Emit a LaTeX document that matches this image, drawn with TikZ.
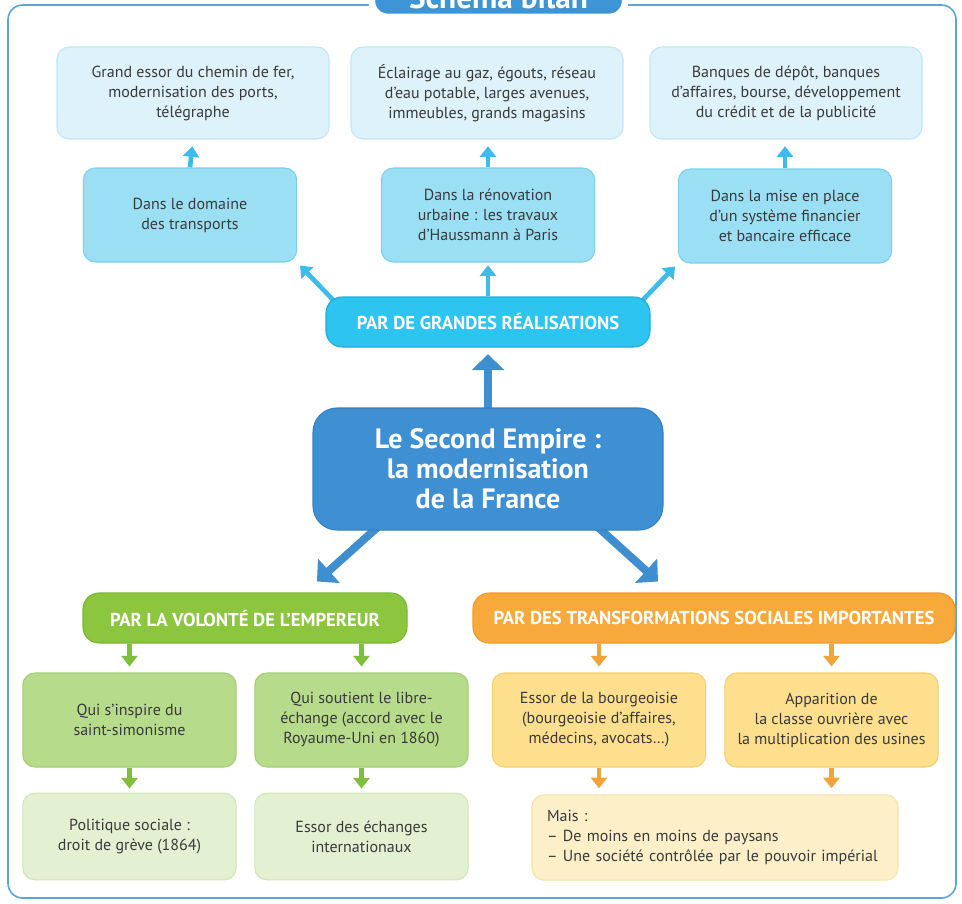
\documentclass[tikz,border=0pt]{standalone}
\usepackage{fontspec}
\setmainfont{PT Sans}
\usetikzlibrary{arrows.meta,backgrounds,calc}

\definecolor{textgray}{HTML}{3A3A3A}
\definecolor{frameblue}{HTML}{5AA5DC}
\definecolor{tabblue}{HTML}{3D95D5}
\definecolor{paleblue}{HTML}{DDF2FB}
\definecolor{paleblueline}{HTML}{BFE6F6}
\definecolor{midcyan}{HTML}{9BDFF5}
\definecolor{midcyanline}{HTML}{7ACFEE}
\definecolor{parcyan}{HTML}{2DC4EF}
\definecolor{parcyanline}{HTML}{1FAEDC}
\definecolor{empireblue}{HTML}{3F8FD3}
\definecolor{empireblueline}{HTML}{3580C2}
\definecolor{cyanarrow}{HTML}{3DBBE9}
\definecolor{bluearrow}{HTML}{3E8ED0}
\definecolor{greenhead}{HTML}{8CC63F}
\definecolor{greenheadline}{HTML}{7AB532}
\definecolor{greenmid}{HTML}{B6DB8B}
\definecolor{greenmidline}{HTML}{A2CE72}
\definecolor{greenpale}{HTML}{E3F1D2}
\definecolor{greenpaleline}{HTML}{D0E6B6}
\definecolor{greenarrow}{HTML}{7FBF3B}
\definecolor{orangehead}{HTML}{F8A93C}
\definecolor{orangeheadline}{HTML}{EE9A2A}
\definecolor{orangemid}{HTML}{FDDF8E}
\definecolor{orangemidline}{HTML}{F5CF6E}
\definecolor{orangepale}{HTML}{FDF0C8}
\definecolor{orangepaleline}{HTML}{F6E2A6}
\definecolor{orangearrow}{HTML}{F2A33A}

\begin{document}
\begin{tikzpicture}[x=0.75pt, y=-0.75pt,
    box/.style={rounded corners=9pt, align=center, text=textgray, line width=0.8pt,
                font=\fontsize{12}{15}\selectfont, minimum width=160pt, minimum height=70.5pt, inner sep=2pt},
    toprow/.style={box, fill=paleblue, draw=paleblueline, minimum width=204pt, minimum height=69pt},
    midrow/.style={box, fill=midcyan, draw=midcyanline},
    header/.style={rounded corners=12pt, align=center, text=white, line width=0.8pt,
                   font=\fontsize{14}{16}\selectfont\bfseries, minimum height=37.5pt, inner sep=2pt},
    smallarrow/.style={-{Triangle[width=12pt,length=8pt]}, line width=3.5pt},
    bigarrow/.style={-{Triangle[width=24pt,length=12pt]}, line width=6pt, draw=bluearrow}]

  \useasboundingbox (0,0) rectangle (962,903);
  \clip (0,0) rectangle (962,903);

  % frame and title tab
  \draw[frameblue, line width=1.2pt, rounded corners=11pt] (8,5) rectangle (956,898);
  \node[fill=tabblue, draw=white, line width=5pt, rounded corners=12pt, minimum width=190pt,
        minimum height=30pt, text=white, font=\fontsize{23.5}{25}\selectfont\bfseries]
        (title) at (498.5,-3) {Schéma bilan};

  % top part
  \node[toprow] (t1) at (193,93) {Grand essor du chemin de fer,\\ modernisation des ports,\\ télégraphe};
  \node[toprow] (t2) at (487,93) {Éclairage au gaz, égouts, réseau\\ d’eau potable, larges avenues,\\ immeubles, grands magasins};
  \node[toprow] (t3) at (786,93) {Banques de dépôt, banques\\ d’affaires, bourse, développement\\ du crédit et de la publicité};

  \node[midrow] (m1) at (190,215) {Dans le domaine\\ des transports};
  \node[midrow] (m2) at (488,215) {Dans la rénovation\\ urbaine : les travaux\\ d’Haussmann à Paris};
  \node[midrow] (m3) at (785,216) {Dans la mise en place\\ d’un système financier\\ et bancaire efficace};

  \node[header, fill=parcyan, draw=parcyanline, minimum width=243pt] (real) at (488,322) {PAR DE GRANDES RÉALISATIONS};

  % centre
  \node[rounded corners=18pt, fill=empireblue, draw=empireblueline, line width=0.8pt, text=white,
        align=center, font=\fontsize{21}{22.5}\selectfont\bfseries, minimum width=262.5pt,
        minimum height=91.5pt] (empire) at (488,469) {Le Second Empire :\\ la modernisation\\ de la France};

  % bottom part
  \node[header, fill=greenhead, draw=greenheadline, minimum width=243pt] (volonte) at (245,618) {PAR LA VOLONTÉ DE L’EMPEREUR};
  \node[header, fill=orangehead, draw=orangeheadline, minimum width=361.5pt] (social) at (714,618) {PAR DES TRANSFORMATIONS SOCIALES IMPORTANTES};

  \node[box, fill=greenmid, draw=greenmidline] (g1) at (129.5,720) {Qui s’inspire du\\ saint-simonisme};
  \node[box, fill=greenmid, draw=greenmidline] (g2) at (361.5,720) {Qui soutient le libre-\\ échange (accord avec le\\ Royaume-Uni en 1860)};
  \node[box, fill=greenpale, draw=greenpaleline, minimum height=65pt] (gb1) at (129.5,836.5) {Politique sociale :\\ droit de grève (1864)};
  \node[box, fill=greenpale, draw=greenpaleline, minimum height=65pt] (gb2) at (361.5,836.5) {Essor des échanges\\ internationaux};

  \node[box, fill=orangemid, draw=orangemidline] (o1) at (599,720) {Essor de la bourgeoisie\\ (bourgeoisie d’affaires,\\ médecins, avocats…)};
  \node[box, fill=orangemid, draw=orangemidline] (o2) at (831.5,720) {Apparition de\\ la classe ouvrière avec\\ la multiplication des usines};
  \node[box, fill=orangepale, draw=orangepaleline, align=left, minimum width=274.5pt, minimum height=64pt,
        text width=252pt, inner xsep=11pt] (mais) at (715,837.5) {Mais :\\ – De moins en moins de paysans\\ – Une société contrôlée par le pouvoir impérial};

  % arrows
  \begin{pgfonlayer}{background}
    \draw[smallarrow, cyanarrow, shorten >=5pt] (m1.north) -- (t1.south);
    \draw[smallarrow, cyanarrow, shorten >=5pt] (m2.north) -- (m2.north |- t2.south);
    \draw[smallarrow, cyanarrow, shorten >=5pt] (m3.north) -- (m3.north |- t3.south);
    \draw[smallarrow, cyanarrow, shorten >=3pt] ($(real.north west)+(12,8)$) -- (m1.south east);
    \draw[smallarrow, cyanarrow, shorten >=2pt] (real.north) -- (m2.south);
    \draw[smallarrow, cyanarrow, shorten >=3pt] ($(real.north east)+(-12,8)$) -- (m3.south west);
    \draw[bigarrow, shorten >=5pt] (empire.center) -- (real.south);
    \draw[bigarrow] ($(empire.south)+(-55,-53)$) -- ($(volonte.north)+(72,-11)$);
    \draw[bigarrow] ($(empire.south)+(55,-53)$) -- ($(social.north)+(-56,-11)$);
    \draw[smallarrow, greenarrow, shorten >=4.5pt] (g1.north |- volonte.south) -- (g1.north);
    \draw[smallarrow, greenarrow, shorten >=4.5pt] (g2.north |- volonte.south) -- (g2.north);
    \draw[smallarrow, greenarrow, shorten >=3pt] (g1.south) -- (gb1.north);
    \draw[smallarrow, greenarrow, shorten >=3pt] (g2.south) -- (gb2.north);
    \draw[smallarrow, orangearrow, shorten >=4.5pt] (o1.north |- social.south) -- (o1.north);
    \draw[smallarrow, orangearrow, shorten >=4.5pt] (o2.north |- social.south) -- (o2.north);
    \draw[smallarrow, orangearrow, shorten >=4.5pt] (o1.south) -- (o1.south |- mais.north);
    \draw[smallarrow, orangearrow, shorten >=4.5pt] (o2.south) -- (o2.south |- mais.north);
  \end{pgfonlayer}
\end{tikzpicture}
\end{document}
